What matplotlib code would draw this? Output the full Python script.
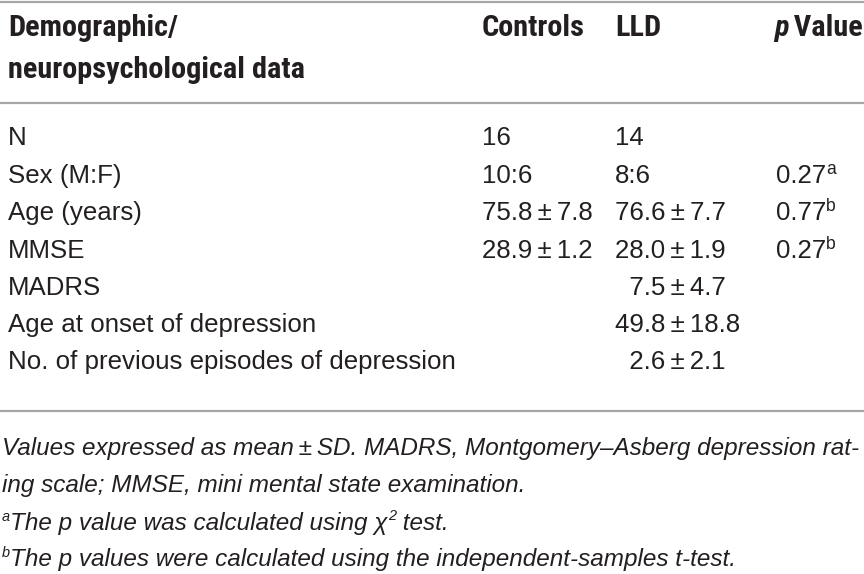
import matplotlib
matplotlib.use('Agg')
import matplotlib.pyplot as plt
from matplotlib import font_manager

# table content
header_left = ['Demographic/', 'neuropsychological data']
col_names = ['Controls', 'LLD']
row_labels = ['N', 'Sex (M:F)', 'Age (years)', 'MMSE', 'MADRS',
              'Age at onset of depression', 'No. of previous episodes of depression']
controls = ['16', '10:6', '75.8\u2009±\u20097.8', '28.9\u2009±\u20091.2', '', '', '']
lld = ['14', '8:6', '76.6\u2009±\u20097.7', '28.0\u2009±\u20091.9',
       '\u20077.5\u2009±\u20094.7', '49.8\u2009±\u200918.8', '\u20072.6\u2009±\u20092.1']
p_values = ['', '0.27', '0.77', '0.27', '', '', '']
p_marks = ['', 'a', 'b', 'b', '', '', '']
notes = ['Values expressed as mean\u2009±\u2009SD. MADRS, Montgomery\u2013Asberg depression rat-',
         'ing scale; MMSE, mini mental state examination.']
foot_a = ['a', 'The p value was calculated using \u03c7', '2', ' test.']
foot_b = ['b', 'The p values were calculated using the independent-samples t-test.']

W, H = 864, 574
fig = plt.figure(figsize=(W / 100, H / 100), dpi=100)
ax = fig.add_axes([0, 0, 1, 1])
ax.set_xlim(0, W)
ax.set_ylim(H, 0)
ax.axis('off')

# a narrow bold face for the header if one is installed
names = {f.name for f in font_manager.fontManager.ttflist}
narrow_name = None
for cand in ['Roboto Condensed', 'Liberation Sans Narrow', 'Open Sans Condensed',
             'Noto Sans Condensed']:
    if cand in names:
        narrow_name = cand
        break
body = ['Liberation Sans', 'DejaVu Sans']
narrow = ([narrow_name] if narrow_name else []) + body
ink = '#231f20'
rule = '#a6a6a6'

renderer = fig.canvas.get_renderer()


def text_width(s, **kw):
    t = ax.text(0, 0, s, **kw)
    w = t.get_window_extent(renderer).width
    t.remove()
    return w


def fit_size(s, target, base=15, **kw):
    return base * target / text_width(s, size=base, **kw)


def runs(x, y, parts, **kw):
    # draw text pieces one after another, measuring each
    for s, extra in parts:
        opts = dict(kw)
        opts.update(extra)
        dy = opts.pop('dy', 0)
        t = ax.text(x, y + dy, s, va='baseline', ha='left', **opts)
        x += t.get_window_extent(renderer).width
    return x


for yl in (2, 103, 411):
    ax.plot([0, W], [yl, yl], color=rule, lw=1.6, solid_capstyle='butt')

# header
hsize = fit_size(header_left[0], 170, family=narrow, weight='bold')
hd = dict(family=narrow, weight='bold', size=hsize, color=ink)
ax.text(8, 36, header_left[0], va='baseline', **hd)
ax.text(8, 78, header_left[1], va='baseline', **hd)
ax.text(482, 36, col_names[0], va='baseline', **hd)
ax.text(615, 36, col_names[1], va='baseline', **hd)
runs(774, 36, [('p', dict(style='italic')), ('\u2009Value', {})], **hd)

# body rows
bsize = fit_size(row_labels[6], 447, family=body)
bd = dict(family=body, size=bsize, color=ink)
row_y = [145, 183, 220, 258, 295, 332, 369]
for i, y in enumerate(row_y):
    ax.text(8, y, row_labels[i], va='baseline', **bd)
    ax.text(482, y, controls[i], va='baseline', **bd)
    ax.text(615, y, lld[i], va='baseline', **bd)
    if p_values[i]:
        runs(776, y, [(p_values[i], {}),
                      (p_marks[i], dict(size=bsize * 0.68, dy=-9))], **bd)

# footnotes
fsize = fit_size(notes[0], 858, family=body, style='italic')
ft = dict(family=body, style='italic', size=fsize, color=ink)
ax.text(2, 455, notes[0], va='baseline', **ft)
ax.text(2, 492, notes[1], va='baseline', **ft)
runs(2, 530, [(foot_a[0], dict(size=fsize * 0.6, dy=-9)), (foot_a[1], {}),
              (foot_a[2], dict(size=fsize * 0.6, dy=-10)), (foot_a[3], {})], **ft)
runs(2, 566, [(foot_b[0], dict(size=fsize * 0.6, dy=-9)), (foot_b[1], {})], **ft)

fig.savefig('out.png', dpi=100)
